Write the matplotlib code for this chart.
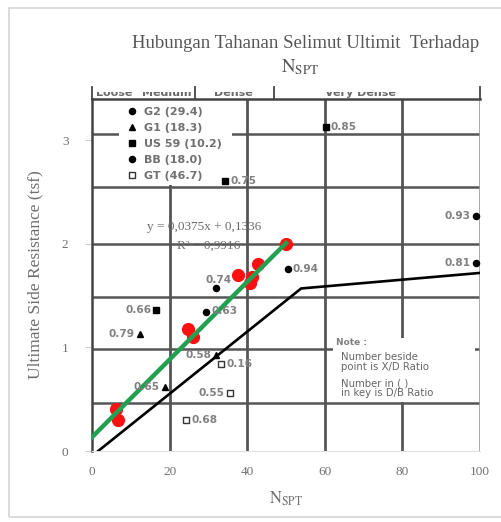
import matplotlib
matplotlib.use("Agg")
import matplotlib.pyplot as plt
from matplotlib.patches import Rectangle
from matplotlib.transforms import Bbox

plt.rcParams['mathtext.fontset'] = 'stix'

# fitted data (red points) and trend line
fit_x = [6.3, 6.8, 24.8, 26.0, 37.6, 40.6, 41.2, 42.8, 50.0]
fit_y = [0.41, 0.30, 1.18, 1.10, 1.70, 1.62, 1.68, 1.81, 2.00]
slope, intercept = 0.0375, 0.1336
fit_range = [0, 50]

# design curve (black line)
curve_x = [1.6, 53.9, 100]
curve_y = [0.0, 1.57, 1.72]

# scanned points, with X/D ratio labels
g2_x = [50.5, 32.0, 29.5]
g2_y = [1.76, 1.57, 1.34]
g2_lab = ["0.94", "0.74", "0.63"]
g1_x = [12.3, 32.0, 18.8]
g1_y = [1.13, 0.93, 0.62]
g1_lab = ["0.79", "0.58", "0.65"]
us_x = [60.3, 34.4, 16.6]
us_y = [3.13, 2.61, 1.36]
us_lab = ["0.85", "0.75", "0.66"]
bb_x = [98.9, 98.9]
bb_y = [2.27, 1.82]
bb_lab = ["0.93", "0.81"]
gt_x = [33.3, 35.5, 24.3]
gt_y = [0.84, 0.56, 0.30]
gt_lab = ["0.16", "0.55", "0.68"]

series_names = ["G2 (29.4)", "G1 (18.3)", "US 59 (10.2)", "BB (18.0)", "GT (46.7)"]
density = ["Loose", "Medium", "Dense", "Very Dense"]
density_x = [1, 13, 31.5, 60]
density_ticks = [0, 26.5, 47, 100]

grid_y = [0.46, 0.99, 1.49, 2.0, 2.55, 3.06]
grid_x = [20, 40, 60, 80]

fig = plt.figure(figsize=(5.02, 5.22), dpi=100)
ax = fig.add_axes([92/502, 1-451/522, 388/502, 352/522])
ax.set_xlim(0, 100)
ax.set_ylim(0, 3.4)

fig.patches.append(Rectangle((9/502, 1-517/522), 1, 509/522, transform=fig.transFigure,
                             fill=False, ec='#d4d4d4', lw=1.2))

gridc = '#555555'
for gy in grid_y:
    ax.axhline(gy, color=gridc, lw=1.8, zorder=1)
for gx in grid_x:
    ax.axvline(gx, color=gridc, lw=2.0, zorder=1)
ax.axvline(100, color='#9a9a9a', lw=1.2, zorder=1)

# white patches of the scan (legend area, note box)
ax.add_patch(Rectangle((7, 2.565), 29, 0.835, fc='white', ec='none', zorder=2))
ax.add_patch(Rectangle((62, 0.475), 36.8, 0.62, fc='white', ec='none', zorder=2))

for s in ['top', 'left']:
    ax.spines[s].set_color('#444444')
    ax.spines[s].set_linewidth(1.8)
ax.spines['right'].set_visible(False)
ax.spines['bottom'].set_color('#e0e0e0')

ax.set_xticks([0, 20, 40, 60, 80, 100])
ax.set_yticks([0, 1, 2, 3])
ax.tick_params(axis='x', length=0, pad=11, labelcolor='#707070', labelsize=9.5)
ax.tick_params(axis='y', length=5, color='#cccccc', pad=12, labelcolor='#707070', labelsize=9.5)
for lab in ax.get_xticklabels() + ax.get_yticklabels():
    lab.set_family('Liberation Serif')

ax.set_ylabel("Ultimate Side Resistance (tsf)", family='Liberation Serif', fontsize=12.5,
              color='#6e6e6e', labelpad=13)
ax.set_xlabel(r"$\mathrm{N}_{\mathrm{SPT}}$", fontsize=12, color='#6e6e6e', labelpad=8)

fig.text(306/502, 1-44/522, "Hubungan Tahanan Selimut Ultimit  Terhadap", ha='center', va='center',
         family='Liberation Serif', fontsize=13.5, color='#555555')
fig.text(300/502, 1-67/522, r"$\mathrm{N}_{\mathrm{SPT}}$", ha='center', va='center',
         fontsize=13.5, color='#555555')

# density header (cut off in the scan)
clip = Bbox.from_extents(0, 522-99, 502, 522-92)
for name, dx in zip(density, density_x):
    t = ax.text(dx, 3.41, name, fontsize=8, color='#6a6a6a', fontweight='bold', va='bottom')
    t.set_clip_box(clip)
    t.set_clip_on(True)
for tx in density_ticks:
    ax.plot([tx, tx], [3.4, 3.52], color='#444444', lw=1.3, clip_on=False)

# trend line and fitted points
ax.plot(fit_range, [slope*v + intercept for v in fit_range], color='#22a050', lw=3.2, zorder=4)
ax.plot(fit_x, fit_y, 'o', color='#ff1010', ms=8.5, zorder=3.5)
ax.plot(curve_x, curve_y, color='black', lw=1.9, zorder=3)

ax.text(29, 2.13, "y = 0,0375x + 0,1336", ha='center', family='Liberation Serif',
        fontsize=9.5, color='#6a6a6a', zorder=5)
ax.text(30, 1.95, "R² = 0,9916", ha='center', family='Liberation Serif',
        fontsize=9.5, color='#6a6a6a', zorder=5)

ms = 4.4
h_g2, = ax.plot(g2_x, g2_y, 'o', color='black', ms=ms, ls='none', zorder=5)
h_g1, = ax.plot(g1_x, g1_y, '^', color='black', ms=ms, ls='none', zorder=5)
h_us, = ax.plot(us_x, us_y, 's', color='black', ms=ms, ls='none', zorder=5)
h_bb, = ax.plot(bb_x, bb_y, 'o', color='black', ms=ms, ls='none', zorder=5)
h_gt, = ax.plot(gt_x, gt_y, 's', mfc='white', mec='#333333', mew=1, ms=ms, ls='none', zorder=5)

right_side = {"0.94", "0.63", "0.85", "0.75", "0.16", "0.68"}
allx = g2_x + g1_x + us_x + bb_x + gt_x
ally = g2_y + g1_y + us_y + bb_y + gt_y
alll = g2_lab + g1_lab + us_lab + bb_lab + gt_lab
for px, py, lab in zip(allx, ally, alll):
    if lab == "0.74":
        off, ha = (2, 8), 'center'
    elif lab in right_side:
        off, ha = (5, 1 if lab == "0.63" else 0), 'left'
    else:
        off, ha = (-5, 0), 'right'
    ax.annotate(lab, (px, py), xytext=off, textcoords='offset pixels', ha=ha, va='center',
                fontsize=7.6, fontweight='bold', color='#808080', zorder=5)

leg = ax.legend([h_g2, h_g1, h_us, h_bb, h_gt], series_names, loc='upper left',
                bbox_to_anchor=(0.09, 0.978), frameon=False, fontsize=8, handlelength=1.0,
                handletextpad=0.5, labelspacing=0.55, borderpad=0, borderaxespad=0)
for t in leg.get_texts():
    t.set_color('#707070')
    t.set_fontweight('bold')

# note box
ax.text(62.8, 1.045, "Note :", fontsize=6.5, color='#808080', fontweight='bold', va='center', zorder=5)
ax.text(64.3, 0.955, "Number beside\npoint is X/D Ratio", fontsize=7.3, color='#666666',
        va='top', linespacing=0.95, zorder=5)
ax.text(64.3, 0.705, "Number in ( )\nin key is D/B Ratio", fontsize=7.3, color='#666666',
        va='top', linespacing=0.95, zorder=5)

fig.savefig("out.png", dpi=100)
